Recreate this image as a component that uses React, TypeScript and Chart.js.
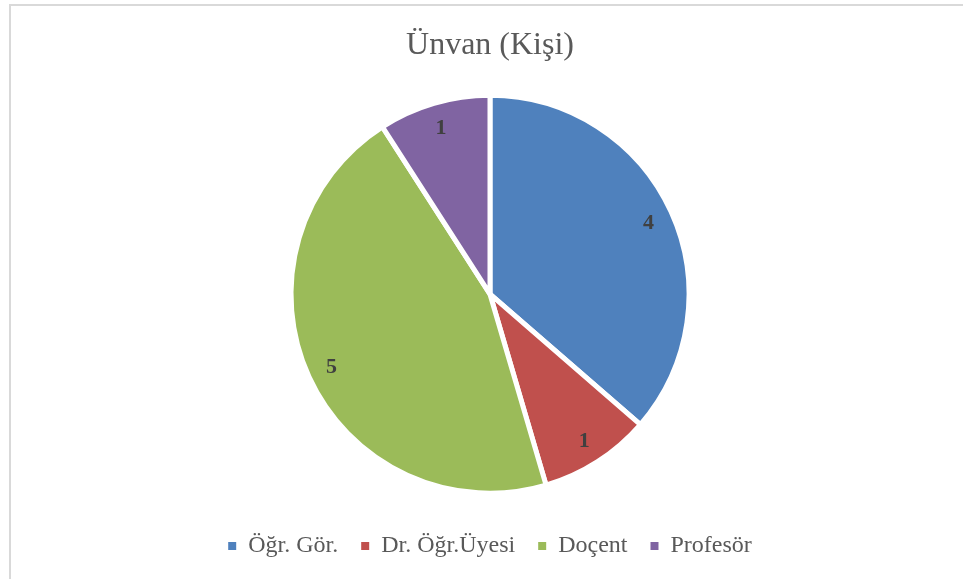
import React, { useEffect, useRef } from "react";
import { Chart, registerables } from "chart.js";

Chart.register(...registerables);

const titleText = "Ünvan (Kişi)";
const categories = ["Öğr. Gör.", "Dr. Öğr.Üyesi", "Doçent", "Profesör"];
const values = [4, 1, 5, 1];
const colors = ["#4F81BD", "#C0504D", "#9BBB59", "#8064A2"];

const labelPlugin = {
  id: "sliceLabels",
  afterDatasetsDraw(chart: any) {
    const ctx = chart.ctx;
    const meta = chart.getDatasetMeta(0);
    const data = chart.data.datasets[0].data;
    ctx.save();
    ctx.font = "bold 22px 'Liberation Serif'";
    ctx.fillStyle = "#404040";
    ctx.textAlign = "center";
    ctx.textBaseline = "middle";
    meta.data.forEach((arc: any, i: number) => {
      const p = arc.getProps(["x", "y", "startAngle", "endAngle", "outerRadius"], true);
      const mid = (p.startAngle + p.endAngle) / 2;
      const r = p.outerRadius * 0.875;
      ctx.fillText(String(data[i]), p.x + Math.cos(mid) * r, p.y + Math.sin(mid) * r + 1);
    });
    ctx.restore();
  },
};

export default function App() {
  const ref = useRef<HTMLCanvasElement | null>(null);
  useEffect(() => {
    if (!ref.current) return;
    const chart = new Chart(ref.current, {
      type: "pie",
      data: {
        labels: categories,
        datasets: [
          {
            data: values,
            backgroundColor: colors,
            borderColor: "#ffffff",
            borderWidth: 5,
          },
        ],
      },
      options: {
        responsive: false,
        animation: false,
        radius: 199,
        layout: { padding: { left: 17, right: 0, top: 0, bottom: 11 } },
        plugins: {
          title: {
            display: true,
            text: titleText,
            color: "#595959",
            font: { family: "'Liberation Serif'", size: 32, weight: "normal" },
            padding: { top: 26, bottom: 13 },
          },
          legend: {
            position: "bottom",
            labels: {
              color: "#595959",
              font: { family: "'Liberation Serif'", size: 24 },
              boxWidth: 8,
              boxHeight: 8,
              padding: 23,
              generateLabels(chart: any) {
                const items = Chart.overrides.pie.plugins.legend.labels.generateLabels(chart);
                return items.map((it: any) => ({ ...it, lineWidth: 0, strokeStyle: "rgba(0,0,0,0)" }));
              },
            },
          },
          tooltip: { enabled: false },
        },
      } as any,
      plugins: [labelPlugin],
    });
    return () => chart.destroy();
  }, []);
  return (
    <div style={{ position: "fixed", left: 0, top: 0, width: 963, height: 579, background: "#fff", overflow: "hidden" }}>
      <div
        style={{
          position: "absolute",
          left: 9,
          top: 4,
          width: 1000,
          height: 700,
          borderTop: "2px solid #d9d9d9",
          borderLeft: "2px solid #d9d9d9",
        }}
      />
      <canvas ref={ref} width={963} height={579} style={{ position: "absolute", left: 0, top: 0, width: 963, height: 579 }} />
    </div>
  );
}
